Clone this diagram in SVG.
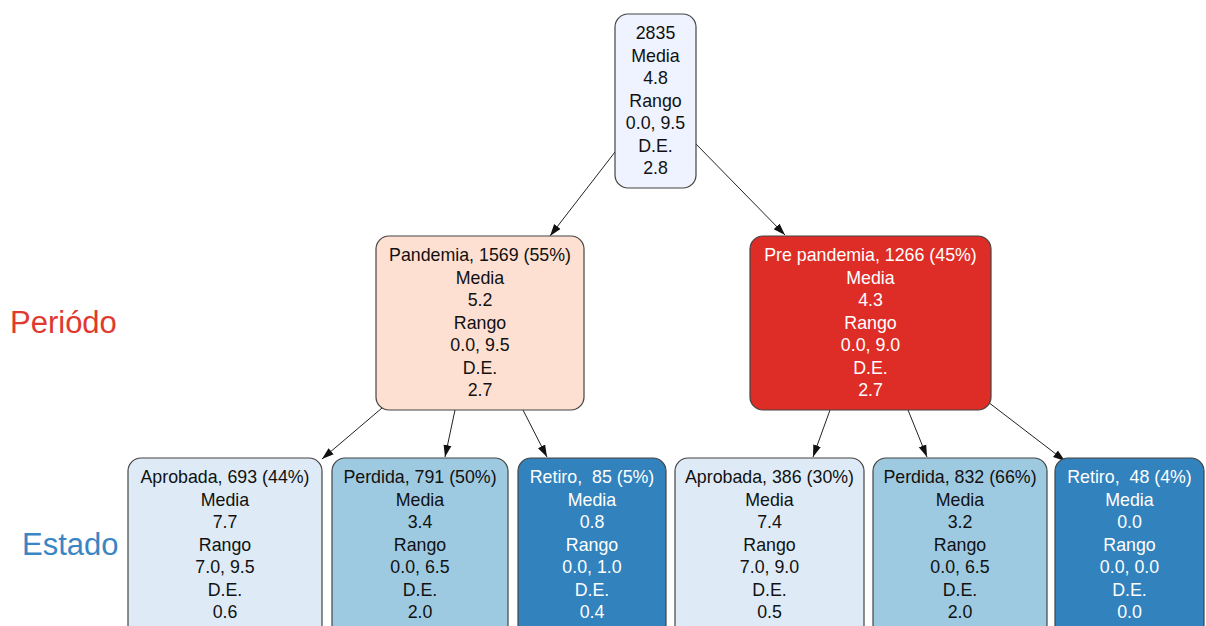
<svg xmlns="http://www.w3.org/2000/svg" width="1206" height="626" viewBox="0 0 1206 626">
<style>
.box{stroke:#444;stroke-width:1.2}
.t{font-family:"Liberation Sans",Arial,sans-serif;font-size:17.8px;text-anchor:middle;fill:#111;white-space:pre}
.w{fill:#fff}
.e{stroke:#222;stroke-width:1;fill:none;marker-end:url(#ah)}
.lab{font-family:"Liberation Sans",Arial,sans-serif;font-size:31px}
</style>
<defs>
<marker id="ah" viewBox="0 0 12 10" refX="12" refY="5" markerWidth="12" markerHeight="10" markerUnits="userSpaceOnUse" orient="auto">
<path d="M0,1 L12,5 L0,9 z" fill="#111"/>
</marker>
</defs>
<rect width="1206" height="626" fill="#fff"/>
<text class="lab" x="10" y="333" fill="#e0392f">Periódo</text>
<text class="lab" x="22" y="555" fill="#3a86c4">Estado</text>
<g id="edges">
<line class="e" x1="615" y1="152" x2="550" y2="236"/>
<line class="e" x1="695" y1="143" x2="785" y2="235"/>
<line class="e" x1="382" y1="408" x2="322" y2="459"/>
<line class="e" x1="455" y1="410" x2="445" y2="457"/>
<line class="e" x1="523" y1="410" x2="547" y2="457"/>
<line class="e" x1="830" y1="410" x2="813" y2="457"/>
<line class="e" x1="908" y1="410" x2="927" y2="457"/>
<line class="e" x1="988" y1="402" x2="1065" y2="461"/>
</g>
<g id="root">
<rect class="box" x="615" y="14" width="81" height="174" rx="13" fill="#eff3ff"/>
<text class="t" x="655.5" y="39">2835<tspan x="655.5" dy="22.5">Media</tspan><tspan x="655.5" dy="22.5">4.8</tspan><tspan x="655.5" dy="22.5">Rango</tspan><tspan x="655.5" dy="22.5">0.0, 9.5</tspan><tspan x="655.5" dy="22.5">D.E.</tspan><tspan x="655.5" dy="22.5">2.8</tspan></text>
</g>
<g id="pandemia">
<rect class="box" x="376" y="236" width="208" height="174" rx="13" fill="#fee0d2"/>
<text class="t" x="480" y="261">Pandemia, 1569 (55%)<tspan x="480" dy="22.5">Media</tspan><tspan x="480" dy="22.5">5.2</tspan><tspan x="480" dy="22.5">Rango</tspan><tspan x="480" dy="22.5">0.0, 9.5</tspan><tspan x="480" dy="22.5">D.E.</tspan><tspan x="480" dy="22.5">2.7</tspan></text>
</g>
<g id="prepandemia">
<rect class="box" x="750" y="236" width="241" height="174" rx="13" fill="#de2d26"/>
<text class="t w" x="870.5" y="261">Pre pandemia, 1266 (45%)<tspan x="870.5" dy="22.5">Media</tspan><tspan x="870.5" dy="22.5">4.3</tspan><tspan x="870.5" dy="22.5">Rango</tspan><tspan x="870.5" dy="22.5">0.0, 9.0</tspan><tspan x="870.5" dy="22.5">D.E.</tspan><tspan x="870.5" dy="22.5">2.7</tspan></text>
</g>
<g id="aprobada1">
<rect class="box" x="128" y="458" width="194" height="180" rx="13" fill="#deebf7"/>
<text class="t" x="225" y="483">Aprobada, 693 (44%)<tspan x="225" dy="22.5">Media</tspan><tspan x="225" dy="22.5">7.7</tspan><tspan x="225" dy="22.5">Rango</tspan><tspan x="225" dy="22.5">7.0, 9.5</tspan><tspan x="225" dy="22.5">D.E.</tspan><tspan x="225" dy="22.5">0.6</tspan></text>
</g>
<g id="perdida1">
<rect class="box" x="332" y="458" width="176" height="180" rx="13" fill="#9ecae1"/>
<text class="t" x="420" y="483">Perdida, 791 (50%)<tspan x="420" dy="22.5">Media</tspan><tspan x="420" dy="22.5">3.4</tspan><tspan x="420" dy="22.5">Rango</tspan><tspan x="420" dy="22.5">0.0, 6.5</tspan><tspan x="420" dy="22.5">D.E.</tspan><tspan x="420" dy="22.5">2.0</tspan></text>
</g>
<g id="retiro1">
<rect class="box" x="518" y="458" width="148" height="180" rx="13" fill="#3182bd"/>
<text class="t w" x="592" y="483">Retiro,  85 (5%)<tspan x="592" dy="22.5">Media</tspan><tspan x="592" dy="22.5">0.8</tspan><tspan x="592" dy="22.5">Rango</tspan><tspan x="592" dy="22.5">0.0, 1.0</tspan><tspan x="592" dy="22.5">D.E.</tspan><tspan x="592" dy="22.5">0.4</tspan></text>
</g>
<g id="aprobada2">
<rect class="box" x="675" y="458" width="189" height="180" rx="13" fill="#deebf7"/>
<text class="t" x="769.5" y="483">Aprobada, 386 (30%)<tspan x="769.5" dy="22.5">Media</tspan><tspan x="769.5" dy="22.5">7.4</tspan><tspan x="769.5" dy="22.5">Rango</tspan><tspan x="769.5" dy="22.5">7.0, 9.0</tspan><tspan x="769.5" dy="22.5">D.E.</tspan><tspan x="769.5" dy="22.5">0.5</tspan></text>
</g>
<g id="perdida2">
<rect class="box" x="873" y="458" width="174" height="180" rx="13" fill="#9ecae1"/>
<text class="t" x="960" y="483">Perdida, 832 (66%)<tspan x="960" dy="22.5">Media</tspan><tspan x="960" dy="22.5">3.2</tspan><tspan x="960" dy="22.5">Rango</tspan><tspan x="960" dy="22.5">0.0, 6.5</tspan><tspan x="960" dy="22.5">D.E.</tspan><tspan x="960" dy="22.5">2.0</tspan></text>
</g>
<g id="retiro2">
<rect class="box" x="1055" y="458" width="149" height="180" rx="13" fill="#3182bd"/>
<text class="t w" x="1129.5" y="483">Retiro,  48 (4%)<tspan x="1129.5" dy="22.5">Media</tspan><tspan x="1129.5" dy="22.5">0.0</tspan><tspan x="1129.5" dy="22.5">Rango</tspan><tspan x="1129.5" dy="22.5">0.0, 0.0</tspan><tspan x="1129.5" dy="22.5">D.E.</tspan><tspan x="1129.5" dy="22.5">0.0</tspan></text>
</g>
</svg>
